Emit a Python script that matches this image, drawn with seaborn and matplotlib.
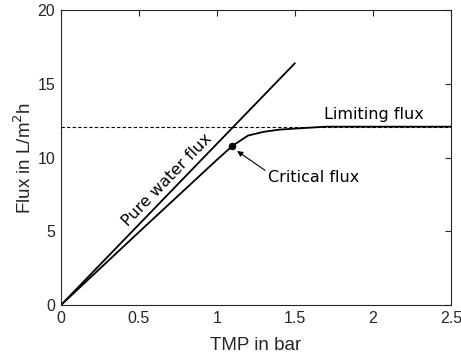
import matplotlib
matplotlib.use("Agg")
import matplotlib.pyplot as plt
import seaborn as sns
import pandas as pd

# data
pure_tmp = [0.0, 1.5]
pure_flux = [0.0, 16.4]
flux_tmp = [0.0, 0.5, 1.0, 1.1, 1.2, 1.3, 1.4, 1.5, 1.7, 2.5]
flux_vals = [0.0, 4.95, 9.85, 10.8, 11.5, 11.75, 11.9, 11.97, 12.1, 12.1]
limit_flux = 12.1
crit_tmp = [1.1]
crit_flux = [10.8]

sns.set_theme(style="white")
plt.rcParams['font.family'] = ['Liberation Sans', 'DejaVu Sans']

fig = plt.figure(figsize=(4.61, 3.62), dpi=100)
ax = fig.add_axes([0.132, 0.157, 0.846, 0.815])

dgray = '#262626'
ax.axhline(limit_flux, color='black', lw=0.8, ls=(0, (3, 2)))
sns.lineplot(x=pure_tmp, y=pure_flux, ax=ax, color='black', lw=1.3)
sns.lineplot(x=flux_tmp, y=flux_vals, ax=ax, color='black', lw=1.3)
sns.scatterplot(x=crit_tmp, y=crit_flux, ax=ax, color='black', s=25, zorder=5, edgecolor='black')

ax.set_xlim(0, 2.5)
ax.set_ylim(0, 20)
ax.set_xticks([0, 0.5, 1, 1.5, 2, 2.5])
ax.set_xticklabels(['0', '0.5', '1', '1.5', '2', '2.5'])
ax.set_yticks([0, 5, 10, 15, 20])
ax.tick_params(direction='in', top=True, right=True, length=4, width=0.8,
               colors=dgray, labelsize=11.5, pad=4)
for sp in ax.spines.values():
    sp.set_color(dgray)
    sp.set_linewidth(0.8)
    sp.set_visible(True)

ax.set_xlabel('TMP in bar', fontsize=13.5, color=dgray, labelpad=8)
ax.set_ylabel('Flux in L/m$^2$h', fontsize=13.5, color=dgray, labelpad=2)

ax.text(0.68, 8.45, 'Pure water flux', rotation=46, ha='center', va='center',
        fontsize=11.5, family='DejaVu Sans', color='black', rotation_mode='anchor')
ax.text(1.69, 12.45, 'Limiting flux', ha='left', va='bottom',
        fontsize=11.5, family='DejaVu Sans', color='black')
ax.annotate('Critical flux', xy=(1.13, 10.45), xytext=(1.33, 8.68),
            ha='left', va='center', fontsize=11.5, family='DejaVu Sans', color='black',
            arrowprops=dict(arrowstyle='-|>', color='black', lw=0.8, mutation_scale=8,
                            shrinkA=0, shrinkB=0, relpos=(0, 0.8)))

fig.savefig('out.png', dpi=100)
